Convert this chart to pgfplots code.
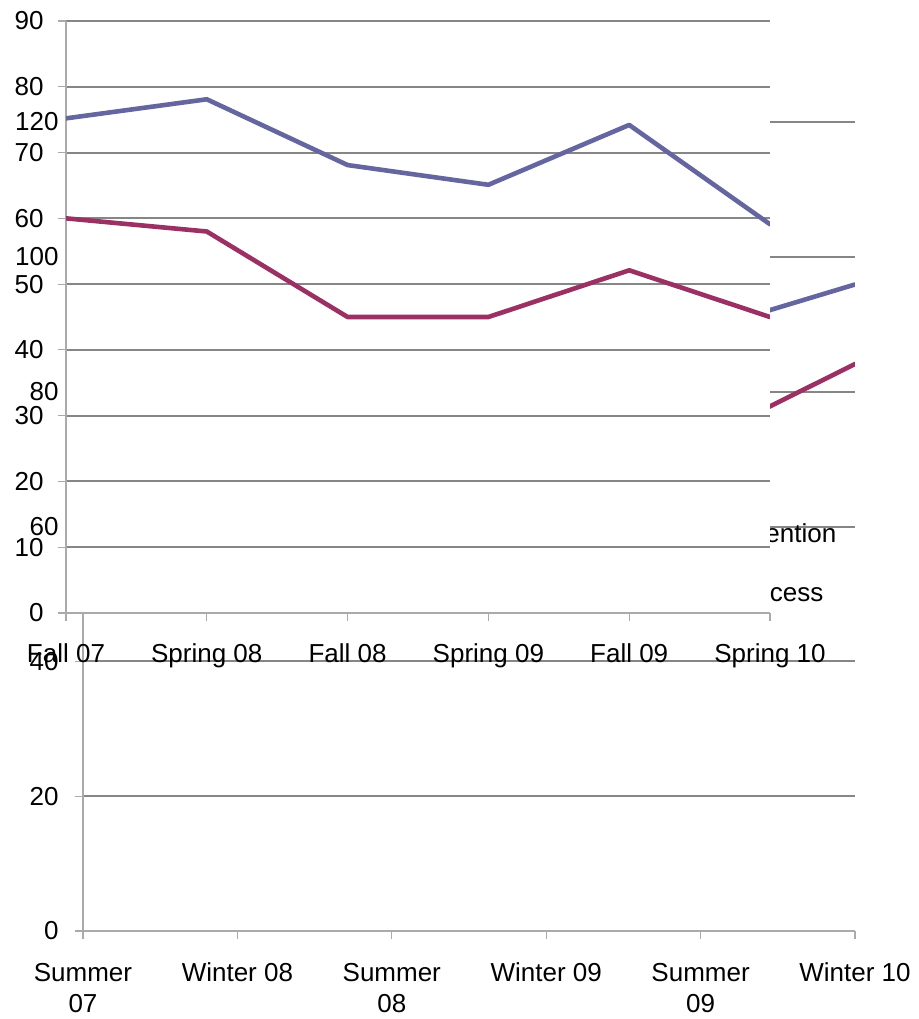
\documentclass[border=0pt]{standalone}
\usepackage{pgfplots}
\pgfplotsset{compat=1.18}
\usepackage{fontspec}
\setmainfont{Liberation Sans}

\definecolor{retention}{RGB}{101,102,160}
\definecolor{success}{RGB}{155,48,100}
\definecolor{gridgray}{RGB}{134,134,134}
\definecolor{axisgray}{RGB}{170,170,170}

\pgfplotsset{
  excel/.style={
    scale only axis,
    xmin=0, xmax=5,
    xtick={0,...,5},
    axis x line*=bottom, axis y line*=left,
    axis line style={axisgray, line width=0.6pt, -},
    ymajorgrids,
    major grid style={gridgray, line width=1pt},
    tick align=outside,
    major tick length=4pt,
    tick style={axisgray, line width=0.6pt},
    tick label style={font=\fontsize{13}{15.5}\selectfont, text=black},
    /pgf/number format/assume math mode=true,
    every axis plot/.append style={line width=2.3pt, line cap=round, line join=round, mark=none},
  }
}

% terms: summer / winter (back chart)
\pgfplotstableread{
idx retention success
0   90.0      75.0
1   92.0      78.0
2   88.0      72.0
3   91.0      76.0
4   89.0      72.7
5   95.9      84.1
}\termsback

\begin{document}
\begin{tikzpicture}
\path[use as bounding box] (0,0) rectangle (459.5pt,-509.5pt);

% back chart
\begin{axis}[excel,
    at={(41.5pt,-465.5pt)}, anchor=south west,
    width=386pt, height=404.5pt,
    ymin=0, ymax=120, ytick={0,20,...,120},
    yticklabel style={xshift=-4.7pt},
    xticklabel style={align=center, anchor=north, yshift=-8.5pt},
    xticklabels={{Summer\\07},{Winter 08},{Summer\\08},{Winter 09},{Summer\\09},{Winter 10}},
    legend style={at={(axis description cs:0.768,0.4536)}, anchor=west,
      draw=none, fill=none, font=\fontsize{13}{15.5}\selectfont, row sep=14.5pt},
    legend cell align=left,
  ]
  \addplot[retention] table[x=idx, y=retention] {\termsback};
  \addlegendentry{Retention}
  \addplot[success] table[x=idx, y=success] {\termsback};
  \addlegendentry{Success}
\end{axis}

% front chart
\begin{axis}[excel,
    at={(33pt,-306.5pt)}, anchor=south west,
    width=352pt, height=296pt,
    axis background/.style={fill=white},
    ymin=0, ymax=90, ytick={0,10,...,90},
    yticklabel style={xshift=-3.7pt},
    xticklabel style={anchor=north, yshift=-8pt},
    xticklabels={Fall 07,Spring 08,Fall 08,Spring 09,Fall 09,Spring 10},
  ]
  \addplot[retention] coordinates {(0,75.2) (1,78.1) (2,68.1) (3,65.1) (4,74.2) (5,59.1)};
  \addplot[success] coordinates {(0,60) (1,58) (2,45) (3,45) (4,52.1) (5,45)};
\end{axis}
\end{tikzpicture}
\end{document}
